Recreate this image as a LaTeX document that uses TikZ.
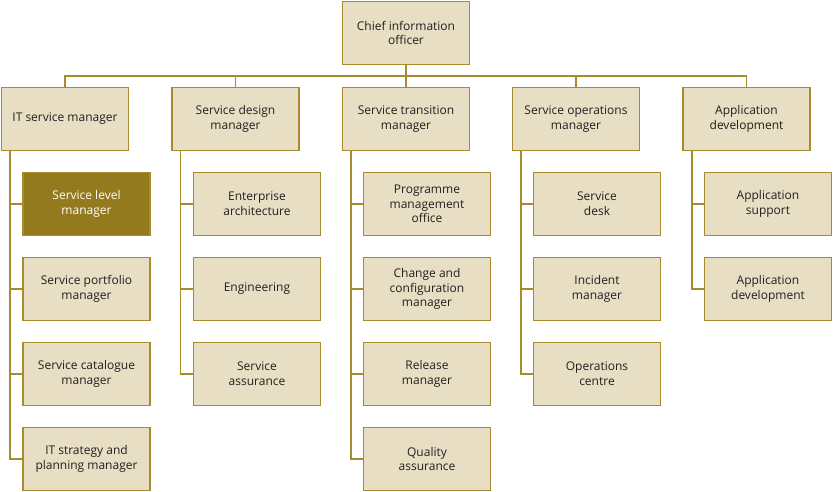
\documentclass[tikz,border=0pt]{standalone}
\usepackage{fontspec}
\setmainfont{Open Sans}
\definecolor{boxfill}{RGB}{232,222,196}
\definecolor{boxline}{RGB}{166,140,44}
\definecolor{darkfill}{RGB}{148,122,30}
\definecolor{txt}{RGB}{35,31,32}
\begin{document}
\begin{tikzpicture}[x=1pt,y=-1pt,
  box/.style={draw=boxline,fill=boxfill,line width=1.5pt,minimum width=127pt,minimum height=63pt,
    align=center,inner sep=2pt,text=txt,font=\fontsize{12}{14.7}\selectfont},
  dark/.style={box,fill=darkfill,text=white},
  conn/.style={draw=boxline,line width=1.4pt}]
\useasboundingbox (0,0) rectangle (833,492);
% top
\node[box] (cio) at (406,33) {Chief information\\officer};
% level 1
\node[box] (p1) at (65,119) {IT service manager};
\node[box] (p2) at (235.5,119) {Service design\\manager};
\node[box] (p3) at (406,119) {Service transition\\manager};
\node[box] (p4) at (576,119) {Service operations\\manager};
\node[box] (p5) at (746.5,119) {Application\\development};
% children col 1
\node[dark] (a1) at (86.5,204) {Service level\\manager};
\node[box] (a2) at (86.5,289) {Service portfolio\\manager};
\node[box] (a3) at (86.5,374) {Service catalogue\\manager};
\node[box] (a4) at (86.5,459) {IT strategy and\\planning manager};
% col 2
\node[box] (b1) at (257,204) {Enterprise\\architecture};
\node[box] (b2) at (257,289) {Engineering};
\node[box] (b3) at (257,374) {Service\\assurance};
% col 3
\node[box] (c1) at (427,204) {Programme\\management\\office};
\node[box] (c2) at (427,289) {Change and\\configuration\\manager};
\node[box] (c3) at (427,374) {Release\\manager};
\node[box] (c4) at (427,459) {Quality\\assurance};
% col 4
\node[box] (d1) at (597,204) {Service\\desk};
\node[box] (d2) at (597,289) {Incident\\manager};
\node[box] (d3) at (597,374) {Operations\\centre};
% col 5
\node[box] (e1) at (768,204) {Application\\support};
\node[box] (e2) at (768,289) {Application\\development};
% bus and trunk positions
\coordinate (bus) at (406,76);
\coordinate (t1) at (10,0);
\coordinate (t2) at (180.5,0);
\coordinate (t3) at (351,0);
\coordinate (t4) at (521,0);
\coordinate (t5) at (692,0);
\draw[conn] (cio.south) -- (bus);
\draw[conn] (p1.north) |- (bus) -| (p5.north);
\draw[conn] (p2.north) -- (p2.north |- bus);
\draw[conn] (p3.north) -- (p3.north |- bus);
\draw[conn] (p4.north) -- (p4.north |- bus);
\foreach \t/\p/\c in {t1/p1/a1,t1/p1/a2,t1/p1/a3,t1/p1/a4,
  t2/p2/b1,t2/p2/b2,t2/p2/b3,
  t3/p3/c1,t3/p3/c2,t3/p3/c3,t3/p3/c4,
  t4/p4/d1,t4/p4/d2,t4/p4/d3,
  t5/p5/e1,t5/p5/e2}
  \draw[conn] (\t |- \p.south) |- (\c.west);
\end{tikzpicture}
\end{document}
